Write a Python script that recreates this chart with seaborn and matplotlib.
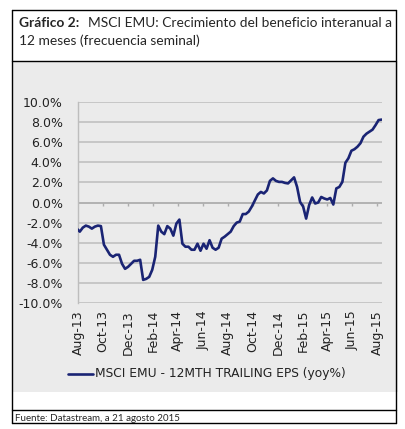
import numpy as np
import pandas as pd
import matplotlib
matplotlib.use("Agg")
import matplotlib.pyplot as plt
from matplotlib.patches import Rectangle
from matplotlib.lines import Line2D
import seaborn as sns

# ---- data (weekly, % yoy) ----
eps_yoy = [
    -2.6, -2.9, -2.5, -2.3, -2.4, -2.6, -2.4, -2.3, -2.35, -4.2,
    -4.7, -5.2, -5.4, -5.2, -5.2, -6.1, -6.6, -6.4, -6.1, -5.8,
    -5.8, -5.7, -7.7, -7.6, -7.4, -6.7, -5.4, -2.3, -2.9, -3.15,
    -2.35, -2.6, -3.3, -2.1, -1.7, -4.1, -4.4, -4.4, -4.7, -4.7,
    -4.1, -4.8, -4.1, -4.6, -3.75, -4.5, -4.7, -4.5, -3.6, -3.4,
    -3.15, -2.9, -2.35, -2.0, -1.9, -1.15, -1.15, -0.9, -0.4, 0.2,
    0.8, 1.05, 0.9, 1.2, 2.15, 2.4, 2.15, 2.05, 2.05, 1.95,
    1.9, 2.2, 2.5, 1.55, 0.05, -0.4, -1.6, -0.25, 0.5, -0.1,
    0.0, 0.55, 0.4, 0.3, 0.45, -0.2, 1.4, 1.55, 2.05, 3.95,
    4.4, 5.15, 5.3, 5.55, 5.9, 6.55, 6.85, 7.05, 7.25, 7.7,
    8.2, 8.25,
]
dates = pd.date_range("2013-07-29", "2015-08-11", periods=len(eps_yoy))
tick_dates = pd.date_range("2013-08-01", "2015-08-01", freq="2MS")
tick_labels = [d.strftime("%b-%y") for d in tick_dates]
y_ticks = np.arange(-10, 10.1, 2)
series_name = "MSCI EMU - 12MTH TRAILING EPS (yoy%)"

df = pd.DataFrame({"date": dates, "value": eps_yoy, "serie": series_name})

sns.set_style("white")
plt.rcParams["font.family"] = ["DejaVu Sans"]

W, H = 406, 429
fig = plt.figure(figsize=(W / 100, H / 100), dpi=100)
fig.patch.set_facecolor("white")

def fx(x):
    return x / W

def fy(y):
    return 1 - y / H

# gray panel
fig.patches.append(Rectangle((fx(13), fy(392)), fx(398 - 13), (392 - 62) / H,
                             transform=fig.transFigure, facecolor="#ebebeb",
                             edgecolor="none", zorder=-5))
# borders
bk = dict(transform=fig.transFigure, color="black", lw=1.0, zorder=5)
fig.add_artist(Line2D([fx(12), fx(396)], [fy(9.5), fy(9.5)], **bk))
fig.add_artist(Line2D([fx(12), fx(396)], [fy(61), fy(61)], **bk))
fig.add_artist(Line2D([fx(12), fx(12)], [fy(9.5), fy(423)], **bk))
fig.add_artist(Line2D([fx(396), fx(396)], [fy(9.5), fy(423)], **bk))
fig.add_artist(Line2D([fx(12), fx(396)], [fy(410), fy(410)], **bk))
fig.add_artist(Line2D([fx(12), fx(396)], [fy(423), fy(423)], **bk))

# title
tfont = ["Lato", "DejaVu Sans"]
fig.text(fx(19), fy(27), "Gráfico 2:", fontsize=9.9, fontweight="bold",
         family=tfont, va="baseline")
fig.text(fx(88), fy(27), "MSCI EMU: Crecimiento del beneficio interanual a",
         fontsize=9.9, family=tfont, va="baseline")
fig.text(fx(19), fy(45), "12 meses (frecuencia seminal)", fontsize=9.9,
         family=tfont, va="baseline")
fig.text(fx(15), fy(421), "Fuente: Datastream, a 21 agosto 2015", fontsize=7,
         family=tfont, va="baseline")

ax = fig.add_axes([fx(78), fy(303), fx(382 - 78), (303 - 102) / H])
ax.set_facecolor("none")
sns.lineplot(data=df, x="date", y="value", hue="serie", palette=["#1a2474"],
             linewidth=1.9, ax=ax, legend=False, zorder=3)

ax.set_ylim(-10, 10)
ax.set_xlim(pd.Timestamp("2013-08-01"), pd.Timestamp("2015-08-12"))
ax.set_yticks(y_ticks)
ax.set_yticklabels([f"{v:.1f}%" for v in y_ticks], fontsize=9, color="#222222")
ax.set_xticks(tick_dates)
ax.set_xticklabels(tick_labels, rotation=90, fontsize=9, color="#222222")
ax.tick_params(axis="y", length=0, pad=11)
ax.tick_params(axis="x", length=0, pad=5)
ax.set_xlabel("")
ax.set_ylabel("")
for s in ["top", "right", "bottom"]:
    ax.spines[s].set_visible(False)
ax.spines["left"].set_color("#bdbdbd")
ax.spines["left"].set_linewidth(1.0)
ax.grid(axis="y", color="#bdbdbd", linewidth=1.1)
ax.set_axisbelow(True)
ax.axhline(0, color="#adadad", lw=1.1, zorder=1)
ax.vlines(tick_dates[1:], -0.35, 0, color="#adadad", lw=1.0, zorder=1)

# legend
fig.add_artist(Line2D([fx(68), fx(93)], [fy(374), fy(374)],
                      transform=fig.transFigure, color="#1a2474", lw=1.9))
fig.text(fx(95), fy(374), series_name, fontsize=8.8, color="#222222",
         va="center", ha="left")

fig.savefig("out.png", dpi=100)
